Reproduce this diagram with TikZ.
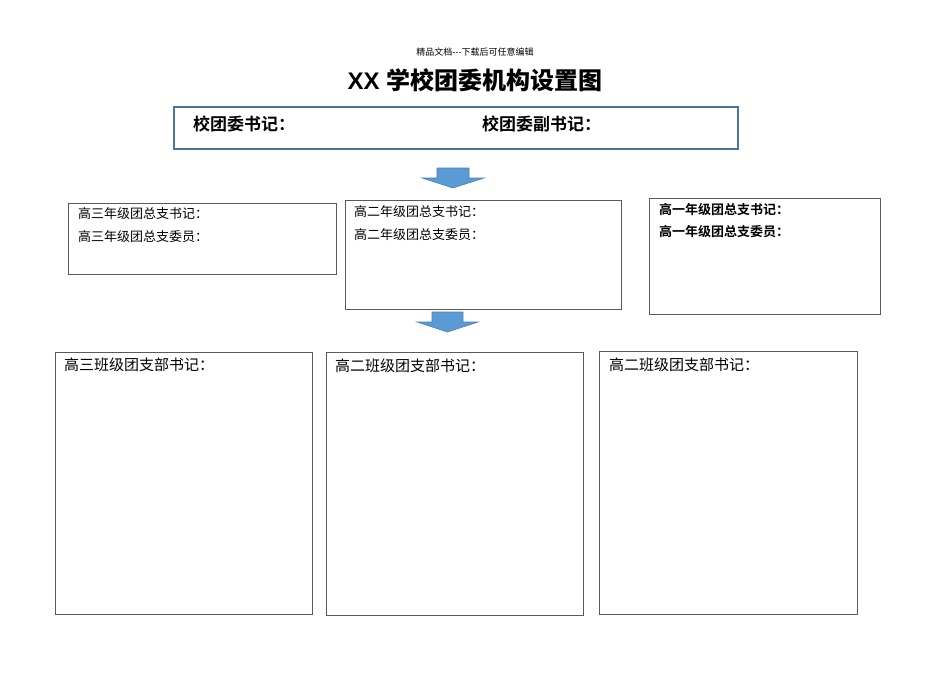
\documentclass[tikz,border=0pt]{standalone}
\usepackage{fontspec}
\setmainfont{Liberation Sans}
\newfontfamily\cjk{Noto Sans CJK SC}
\newfontfamily\cjkbold{Noto Sans CJK SC Bold}
\usepackage{tikz}

\definecolor{framegray}{HTML}{5A5A5A}
\definecolor{topblue}{HTML}{4E7397}
\definecolor{arrowblue}{HTML}{5B9BD5}
\definecolor{arrowline}{HTML}{4A80B4}

\begin{document}
\begin{tikzpicture}[x=1pt,y=-1pt]

        \useasboundingbox (0,0) rectangle (950,672);

        % page header and title
        \node (hdr)   at (475,52) {\cjk\fontsize{9}{10}\selectfont 精品文档---下载后可任意编辑};
        \node (title) at (475,80) {\fontsize{24}{26}\selectfont\bfseries XX\ \cjkbold 学校团委机构设置图};

        % frames
        \draw[topblue, line width=2pt] (174,107) rectangle (738,149);
        \begin{scope}[framegray, line width=.8pt]
          \draw (68,203)  rectangle (336,274);
          \draw (345,200) rectangle (621,309);
          \draw (649,198) rectangle (880,314);
          \draw (55,352)  rectangle (312,614);
          \draw (326,352) rectangle (583,615);
          \draw (599,351) rectangle (857,614);
        \end{scope}

        % block arrows
        \begin{scope}[fill=arrowblue, draw=arrowline, line width=.6pt]
          \filldraw (437,168) -- (469,168) -- (469,178) -- (484,178) -- (453,188)
                 -- (422,178) -- (437,178) -- cycle;
          \filldraw (432,312) -- (463,312) -- (463,322) -- (478,322) -- (447.5,332)
                 -- (417,322) -- (432,322) -- cycle;
        \end{scope}

        \begin{scope}[every node/.style={anchor=west, inner sep=0pt}]
          \node (s1) at (193,124) {\cjkbold\fontsize{17}{19}\selectfont 校团委书记：};
          \node (s2) at (482,124) {\cjkbold\fontsize{17}{19}\selectfont 校团委副书记：};

          \node (a1) at (78,214)  {\cjk\fontsize{13}{15}\selectfont 高三年级团总支书记：};
          \node (a2) at (78,237)  {\cjk\fontsize{13}{15}\selectfont 高三年级团总支委员：};
          \node (b1) at (354,212) {\cjk\fontsize{13}{15}\selectfont 高二年级团总支书记：};
          \node (b2) at (354,235) {\cjk\fontsize{13}{15}\selectfont 高二年级团总支委员：};
          \node (c1) at (659,210) {\cjkbold\fontsize{13}{15}\selectfont 高一年级团总支书记：};
          \node (c2) at (659,232) {\cjkbold\fontsize{13}{15}\selectfont 高一年级团总支委员：};

          \node (d1) at (64,365)  {\cjk\fontsize{15}{17}\selectfont 高三班级团支部书记：};
          \node (e1) at (335,366) {\cjk\fontsize{15}{17}\selectfont 高二班级团支部书记：};
          \node (f1) at (609,365) {\cjk\fontsize{15}{17}\selectfont 高二班级团支部书记：};
        \end{scope}

      \end{tikzpicture}
\end{document}
